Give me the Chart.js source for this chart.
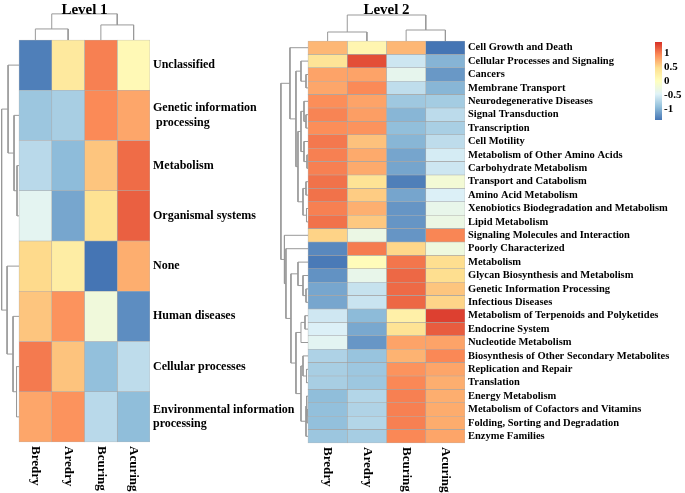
<!DOCTYPE html>
<html>
<head>
<meta charset="utf-8">
<script src="https://cdn.jsdelivr.net/npm/chart.js@4.4.1/dist/chart.umd.min.js"></script>
<style>
  html, body { margin: 0; padding: 0; background: #fff; }
  body { width: 685px; height: 493px; position: relative; overflow: hidden; }
  .panel { position: absolute; }
</style>
</head>
<body>
<div class="panel" style="left:0;top:0;width:320px;height:493px"><canvas id="level1"></canvas></div>
<div class="panel" style="left:262px;top:0;width:423px;height:493px"><canvas id="level2"></canvas></div>
<div class="panel" style="left:655px;top:42px;width:30px;height:78px"><canvas id="legend"></canvas></div>
<script>
// ---- data ----
const sampleNames = ["Bredry", "Aredry", "Bcuring", "Acuring"];

const level1Rows = [
  "Unclassified",
  ["Genetic information", " processing"],
  "Metabolism",
  "Organismal systems",
  "None",
  "Human diseases",
  "Cellular processes",
  ["Environmental information", "processing"]
];
const level1Values = [
  [-1.34, 0.33, 1.0, 0.09],
  [-0.87, -0.8, 0.95, 0.79],
  [-0.7, -0.95, 0.62, 1.1],
  [-0.41, -1.09, 0.44, 1.16],
  [0.5, 0.27, -1.4, 0.75],
  [0.62, 0.9, -0.23, -1.25],
  [1.03, 0.63, -0.92, -0.67],
  [0.79, 0.9, -0.7, -0.94]
];
// hclust style merges: negative = leaf, positive = earlier merge step; third item = height
const level1RowMerge = [
  [-3, -4, 2], [-2, 1, 5], [-1, 2, 11],
  [-7, -8, 2.5], [-6, 4, 6], [-5, 5, 12],
  [3, 6, 17.5]
];
const level1ColMerge = [[-1, -2, 11], [-3, -4, 15], [1, 2, 26]];

const level2Rows = [
  "Cell Growth and Death", "Cellular Processes and Signaling", "Cancers",
  "Membrane Transport", "Neurodegenerative Diseases", "Signal Transduction",
  "Transcription", "Cell Motility", "Metabolism of Other Amino Acids",
  "Carbohydrate Metabolism", "Transport and Catabolism", "Amino Acid Metabolism",
  "Xenobiotics Biodegradation and Metabolism", "Lipid Metabolism",
  "Signaling Molecules and Interaction", "Poorly Characterized", "Metabolism",
  "Glycan Biosynthesis and Metabolism", "Genetic Information Processing",
  "Infectious Diseases", "Metabolism of Terpenoids and Polyketides",
  "Endocrine System", "Nucleotide Metabolism",
  "Biosynthesis of Other Secondary Metabolites", "Replication and Repair",
  "Translation", "Energy Metabolism", "Metabolism of Cofactors and Vitamins",
  "Folding, Sorting and Degradation", "Enzyme Families"
];
const level2Values = [
  [0.7, 0.15, 0.7, -1.4],
  [0.4, 1.25, -0.58, -1.0],
  [0.81, 0.81, -0.38, -1.18],
  [0.79, 0.95, -0.66, -0.99],
  [0.93, 0.81, -0.85, -0.82],
  [0.98, 0.84, -0.99, -0.68],
  [0.93, 0.9, -0.93, -0.79],
  [1.04, 0.64, -0.99, -0.67],
  [1.0, 0.77, -1.1, -0.53],
  [1.0, 0.77, -1.1, -0.58],
  [1.07, 0.42, -1.34, -0.18],
  [1.07, 0.58, -1.1, -0.49],
  [1.0, 0.74, -1.2, -0.35],
  [1.07, 0.6, -1.2, -0.3],
  [0.54, -0.3, -1.2, 0.97],
  [-1.28, 1.02, 0.52, -0.25],
  [-1.37, 0.05, 1.05, 0.47],
  [-1.22, -0.35, 1.12, 0.47],
  [-1.09, -0.62, 1.11, 0.62],
  [-1.09, -0.6, 1.12, 0.53],
  [-0.57, -0.96, 0.23, 1.32],
  [-0.49, -1.08, 0.42, 1.18],
  [-0.42, -1.19, 0.81, 0.81],
  [-0.76, -0.89, 0.72, 0.96],
  [-0.8, -0.86, 0.9, 0.8],
  [-0.8, -0.86, 0.96, 0.75],
  [-0.94, -0.73, 1.0, 0.75],
  [-0.92, -0.75, 1.0, 0.76],
  [-0.92, -0.73, 1.0, 0.76],
  [-0.87, -0.81, 0.96, 0.8]
];
const level2RowMerge = [
  [-3, -4, 2], [-2, 1, 7], [-6, -7, 2], [-5, 3, 4], [-9, -10, 1], [-8, 5, 4],
  [4, 6, 7], [-11, -12, 2], [-13, -14, 1.5], [8, 9, 5], [7, 10, 10], [2, 11, 12],
  [-1, 12, 18], [-19, -20, 2], [-18, 14, 5], [-17, 15, 10], [-21, -22, 3],
  [-23, 17, 7], [-25, -26, 1.5], [-24, 19, 5], [-28, -29, 1], [-27, 21, 1.5],
  [22, -30, 2], [20, 23, 7], [18, 24, 12], [16, 25, 17], [-16, 26, 22],
  [-15, 27, 23.5], [13, 28, 27]
];
const level2ColMerge = [[-1, -2, 9], [-3, -4, 11], [1, 2, 26]];

const colorStops = ["#4575B4", "#91BFDB", "#E0F3F8", "#FFFFBF", "#FEE090", "#FC8D59", "#D73027"];
const colorMin = -1.4, colorMax = 1.4;
const legendTicks = [1, 0.5, 0, -0.5, -1];

// ---- helpers ----
const FONT = '"Liberation Serif", "Times New Roman", serif';
const LINE = "#999999";

function hexToRgb(h) {
  const n = parseInt(h.slice(1), 16);
  return [n >> 16, (n >> 8) & 255, n & 255];
}

function colorFor(v) {
  const t = Math.max(0, Math.min(1, (v - colorMin) / (colorMax - colorMin))) * (colorStops.length - 1);
  const i = Math.min(Math.floor(t), colorStops.length - 2);
  const f = t - i;
  const a = hexToRgb(colorStops[i]), b = hexToRgb(colorStops[i + 1]);
  return "rgb(" + a.map((c, k) => Math.round(c + (b[k] - c) * f)).join(",") + ")";
}

// walk the merge list, return the U-links with child positions/heights
function dendroLinks(merges, leafPos) {
  const nodes = [], links = [];
  const get = (id) => (id < 0 ? { p: leafPos(-id - 1), h: 0 } : nodes[id - 1]);
  merges.forEach(([a, b, h]) => {
    const A = get(a), B = get(b);
    links.push({ A, B, h });
    nodes.push({ p: (A.p + B.p) / 2, h });
  });
  return links;
}

const GAP = { x: null, y: null };

// draws panel title and rotated column names
const heatText = {
  id: "heatText",
  afterDraw(chart, args, opts) {
    const { ctx, scales: { x, y } } = chart;
    ctx.save();
    ctx.fillStyle = "#000";
    ctx.font = "bold 15px " + FONT;
    ctx.textAlign = "center";
    ctx.textBaseline = "middle";
    ctx.fillText(opts.title, x.getPixelForValue(opts.cols.length / 2), 10);
    ctx.font = "bold 13px " + FONT;
    ctx.textAlign = "left";
    const yb = y.getPixelForValue(opts.nRows - 0.5) + 4;
    opts.cols.forEach((name, c) => {
      ctx.save();
      ctx.translate(x.getPixelForValue(c + 0.5), yb);
      ctx.rotate(Math.PI / 2);
      ctx.fillText(name, 0, 0);
      ctx.restore();
    });
    ctx.restore();
  }
};

function heatmapChart(id, cfg) {
  const nR = cfg.rows.length;
  const rowK = cfg.rowSpan / cfg.rowMerge[cfg.rowMerge.length - 1][2];
  const colK = cfg.colSpan / cfg.colMerge[cfg.colMerge.length - 1][2];

  const rowLine = [];
  dendroLinks(cfg.rowMerge, (i) => i).forEach(({ A, B, h }) => {
    rowLine.push(
      { x: -A.h * rowK, y: A.p }, { x: -h * rowK, y: A.p },
      { x: -h * rowK, y: B.p }, { x: -B.h * rowK, y: B.p }, GAP
    );
  });
  const colLine = [];
  dendroLinks(cfg.colMerge, (c) => c + 0.5).forEach(({ A, B, h }) => {
    colLine.push(
      { x: A.p, y: -0.5 - A.h * colK }, { x: A.p, y: -0.5 - h * colK },
      { x: B.p, y: -0.5 - h * colK }, { x: B.p, y: -0.5 - B.h * colK }, GAP
    );
  });

  const cellSets = cfg.cols.map((name, c) => ({
    type: "bar",
    label: name,
    grouped: false,
    data: cfg.rows.map((r, i) => ({ y: i, x: [c, c + 1] })),
    backgroundColor: cfg.values.map((row) => colorFor(row[c])),
    borderColor: "rgba(150,150,150,0.7)",
    borderWidth: 0.6,
    borderSkipped: false,
    barPercentage: 1,
    categoryPercentage: 1
  }));
  const lineStyle = {
    type: "line", borderColor: LINE, borderWidth: 1, pointRadius: 0,
    spanGaps: false, fill: false, tension: 0
  };

  return new Chart(document.getElementById(id), {
    type: "bar",
    data: {
      datasets: [
        ...cellSets,
        { ...lineStyle, label: "rows", data: rowLine },
        { ...lineStyle, label: "cols", data: colLine }
      ]
    },
    options: {
      indexAxis: "y",
      responsive: true,
      maintainAspectRatio: false,
      animation: false,
      events: [],
      layout: { padding: 0 },
      plugins: {
        legend: { display: false },
        tooltip: { enabled: false },
        heatText: { title: cfg.title, cols: cfg.cols, nRows: nR }
      },
      scales: {
        x: {
          type: "linear", display: false, offset: false, beginAtZero: false,
          min: cfg.xMin, max: cfg.cols.length
        },
        y: {
          type: "linear",
          reverse: true,
          offset: false,
          beginAtZero: false,
          position: "right",
          min: cfg.yMin,
          max: cfg.yMax,
          grid: { display: false, drawTicks: false, offset: false },
          border: { display: false },
          afterBuildTicks: (s) => { s.ticks = cfg.rows.map((r, i) => ({ value: i })); },
          afterFit: (s) => { s.width = cfg.labelWidth; s.paddingTop = 0; s.paddingBottom = 0; },
          ticks: {
            autoSkip: false,
            padding: 3,
            color: "#000",
            font: { family: FONT, weight: "bold", size: cfg.fontSize },
            callback: (v) => cfg.rows[v]
          }
        }
      }
    },
    plugins: [heatText]
  });
}

heatmapChart("level1", {
  title: "Level 1",
  rows: level1Rows, cols: sampleNames, values: level1Values,
  rowMerge: level1RowMerge, colMerge: level1ColMerge,
  rowSpan: 0.53, colSpan: 0.52,
  xMin: -0.58, yMin: -1.296, yMax: 8.515, labelWidth: 170, fontSize: 12
});

heatmapChart("level2", {
  title: "Level 2",
  rows: level2Rows, cols: sampleNames, values: level2Values,
  rowMerge: level2RowMerge, colMerge: level2ColMerge,
  rowSpan: 0.69, colSpan: 1.94,
  xMin: -1.172, yMin: -3.56, yMax: 33.23, labelWidth: 220, fontSize: 10.5
});

// colour key
new Chart(document.getElementById("legend"), {
  type: "bar",
  data: {
    labels: [""],
    datasets: [{
      data: [[colorMin, colorMax]],
      barPercentage: 1,
      categoryPercentage: 1,
      borderWidth: 0,
      backgroundColor: (ctx) => {
        const { chart } = ctx;
        const ys = chart.scales.y;
        if (!chart.chartArea || !ys) return colorStops[3];
        const g = chart.ctx.createLinearGradient(0, ys.getPixelForValue(colorMin), 0, ys.getPixelForValue(colorMax));
        colorStops.forEach((c, i) => g.addColorStop(i / (colorStops.length - 1), c));
        return g;
      }
    }]
  },
  options: {
    responsive: true,
    maintainAspectRatio: false,
    animation: false,
    events: [],
    layout: { padding: 0 },
    plugins: { legend: { display: false }, tooltip: { enabled: false } },
    scales: {
      x: { display: false },
      y: {
        position: "right",
        min: colorMin,
        max: colorMax,
        grid: { display: false, drawTicks: false },
        border: { display: false },
        afterBuildTicks: (s) => { s.ticks = legendTicks.map((v) => ({ value: v })); },
        afterFit: (s) => { s.width = 23; s.paddingTop = 0; s.paddingBottom = 0; },
        ticks: {
          autoSkip: false,
          padding: 2,
          color: "#000",
          font: { family: FONT, weight: "bold", size: 11 },
          callback: (v) => String(v)
        }
      }
    }
  }
});
</script>
</body>
</html>
